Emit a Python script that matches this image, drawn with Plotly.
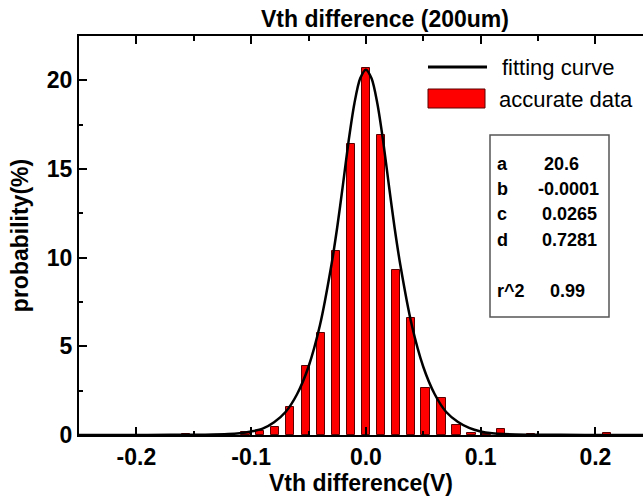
import plotly.graph_objects as go

# ---- data ----
bin_centers = [-0.157, -0.118, -0.105, -0.092, -0.079, -0.066, -0.052, -0.039, -0.026, -0.013,
               0.0, 0.013, 0.026, 0.039, 0.052, 0.066, 0.079, 0.092, 0.105, 0.118, 0.144, 0.210]
probability = [0.05, 0.05, 0.15, 0.25, 0.47, 1.6, 3.9, 5.75, 10.4, 16.4,
               20.7, 16.9, 9.3, 6.6, 2.65, 2.1, 0.56, 0.1, 0.05, 0.32, 0.05, 0.1]

fit_x = [-0.25, -0.21, -0.17, -0.14, -0.12, -0.11, -0.10, -0.09, -0.08, -0.07, -0.06, -0.05,
         -0.04, -0.03, -0.025, -0.02, -0.015, -0.01, -0.005, 0.0, 0.005, 0.01, 0.015, 0.02,
         0.025, 0.03, 0.04, 0.05, 0.06, 0.07, 0.08, 0.09, 0.10, 0.11, 0.12, 0.14, 0.17, 0.21, 0.25]
fit_y = [0.001, 0.003, 0.008, 0.02, 0.05, 0.1, 0.2, 0.36, 0.72, 1.3, 2.3, 3.85,
         6.2, 9.6, 11.7, 14.1, 16.6, 18.7, 20.1, 20.6, 20.1, 18.7, 16.6, 14.1,
         11.7, 9.6, 6.2, 3.85, 2.3, 1.3, 0.75, 0.4, 0.2, 0.1, 0.05, 0.02, 0.008, 0.003, 0.001]

x_ticks = [-0.2, -0.1, 0.0, 0.1, 0.2]
x_tick_labels = ["-0.2", "-0.1", "0.0", "0.1", "0.2"]
y_ticks = [0, 5, 10, 15, 20]

fit_params = [("a", "20.6"), ("b", "-0.0001"), ("c", "0.0265"), ("d", "0.7281")]
r2_value = "0.99"

FONT = "Liberation Sans, Arial, sans-serif"
W, H = 643, 500
ML, MR, MT, MB = 79, 0, 36, 65
PW, PH = W - ML - MR, H - MT - MB

fig = go.Figure()
fig.add_trace(go.Bar(
    x=bin_centers, y=probability, width=0.0072,
    marker=dict(color="#ff0000", line=dict(color="#5a0000", width=1)),
    showlegend=False,
))
fig.add_trace(go.Scatter(
    x=fit_x, y=fit_y, mode="lines",
    line=dict(color="black", width=2.5, shape="spline", smoothing=0.8),
    showlegend=False,
))
# invisible trace to activate the top axis
fig.add_trace(go.Scatter(x=[None], y=[None], xaxis="x2", showlegend=False))

axis_font = dict(family=FONT, size=23, color="black", weight="bold")

fig.update_layout(
    width=W, height=H,
    margin=dict(l=ML, r=MR, t=MT, b=MB),
    paper_bgcolor="white", plot_bgcolor="white",
    bargap=0,
    xaxis=dict(
        range=[-0.25, 0.2415], showgrid=False, zeroline=False,
        showline=True, linecolor="black", linewidth=2,
        ticks="inside", ticklen=8, tickwidth=2, tickcolor="black",
        tickvals=x_ticks, ticktext=x_tick_labels, tickfont=axis_font,
        minor=dict(dtick=0.05, tick0=0, ticks="inside", ticklen=4, tickwidth=2, tickcolor="black"),
        title=dict(text="Vth difference(V)", font=axis_font, standoff=1),
    ),
    xaxis2=dict(
        range=[-0.25, 0.2415], overlaying="x", side="top", showgrid=False, zeroline=False,
        showline=True, linecolor="black", linewidth=2,
        ticks="inside", ticklen=8, tickwidth=2, tickcolor="black",
        tickvals=x_ticks, showticklabels=False,
        minor=dict(dtick=0.05, tick0=0, ticks="inside", ticklen=5, tickwidth=2, tickcolor="black"),
    ),
    yaxis=dict(
        range=[0, 22.5], showgrid=False, zeroline=False,
        showline=True, linecolor="black", linewidth=2,
        ticks="inside", ticklen=8, tickwidth=2, tickcolor="black",
        tickvals=y_ticks, tickfont=axis_font,
        minor=dict(dtick=2.5, tick0=0, ticks="inside", ticklen=4, tickwidth=2, tickcolor="black"),
        title=dict(text="probability(%)", font=axis_font, standoff=12),
    ),
)

def px_x(p):
    return (p - ML) / PW

def px_y(p):
    return (H - MB - p) / PH

shapes = []
annotations = []

# title
annotations.append(dict(
    xref="paper", yref="paper", x=px_x(385), y=px_y(19),
    text="Vth difference (200um)", showarrow=False,
    xanchor="center", yanchor="middle",
    font=dict(family=FONT, size=23, color="black", weight="bold"),
))

# legend (manual)
shapes.append(dict(type="line", xref="paper", yref="paper",
                   x0=px_x(428), x1=px_x(487), y0=px_y(67), y1=px_y(67),
                   line=dict(color="black", width=3)))
shapes.append(dict(type="rect", xref="paper", yref="paper",
                   x0=px_x(428), x1=px_x(485), y0=px_y(89), y1=px_y(108),
                   fillcolor="#ff0000", line=dict(color="#5a0000", width=1)))
leg_font = dict(family=FONT, size=22, color="black")
annotations.append(dict(xref="paper", yref="paper", x=px_x(500), y=px_y(67),
                        text="fitting curve", showarrow=False, xanchor="left", yanchor="middle",
                        font=leg_font))
annotations.append(dict(xref="paper", yref="paper", x=px_x(497), y=px_y(99),
                        text="accurate data", showarrow=False, xanchor="left", yanchor="middle",
                        font=leg_font))

# parameter box
shapes.append(dict(type="rect", xref="paper", yref="paper",
                   x0=px_x(490), x1=px_x(609), y0=px_y(135), y1=px_y(317),
                   fillcolor="white", line=dict(color="#555555", width=1.5), layer="above"))
box_font = dict(family=FONT, size=18, color="black", weight="bold")
row_y = [164, 189, 214, 240]
val_x = [542, 536, 540, 540]
for (name, val), yy, vx in zip(fit_params, row_y, val_x):
    annotations.append(dict(xref="paper", yref="paper", x=px_x(495), y=px_y(yy),
                            text=name, showarrow=False, xanchor="left", yanchor="middle",
                            font=box_font))
    annotations.append(dict(xref="paper", yref="paper", x=px_x(vx), y=px_y(yy),
                            text=val, showarrow=False, xanchor="left", yanchor="middle",
                            font=box_font))
annotations.append(dict(xref="paper", yref="paper", x=px_x(495), y=px_y(291),
                        text="r^2", showarrow=False, xanchor="left", yanchor="middle",
                        font=box_font))
annotations.append(dict(xref="paper", yref="paper", x=px_x(548), y=px_y(291),
                        text=r2_value, showarrow=False, xanchor="left", yanchor="middle",
                        font=box_font))

fig.update_layout(shapes=shapes, annotations=annotations)
fig.write_html("out.html", config={"displayModeBar": False},
               post_script="document.body.style.margin='0';document.body.style.overflow='hidden';")
